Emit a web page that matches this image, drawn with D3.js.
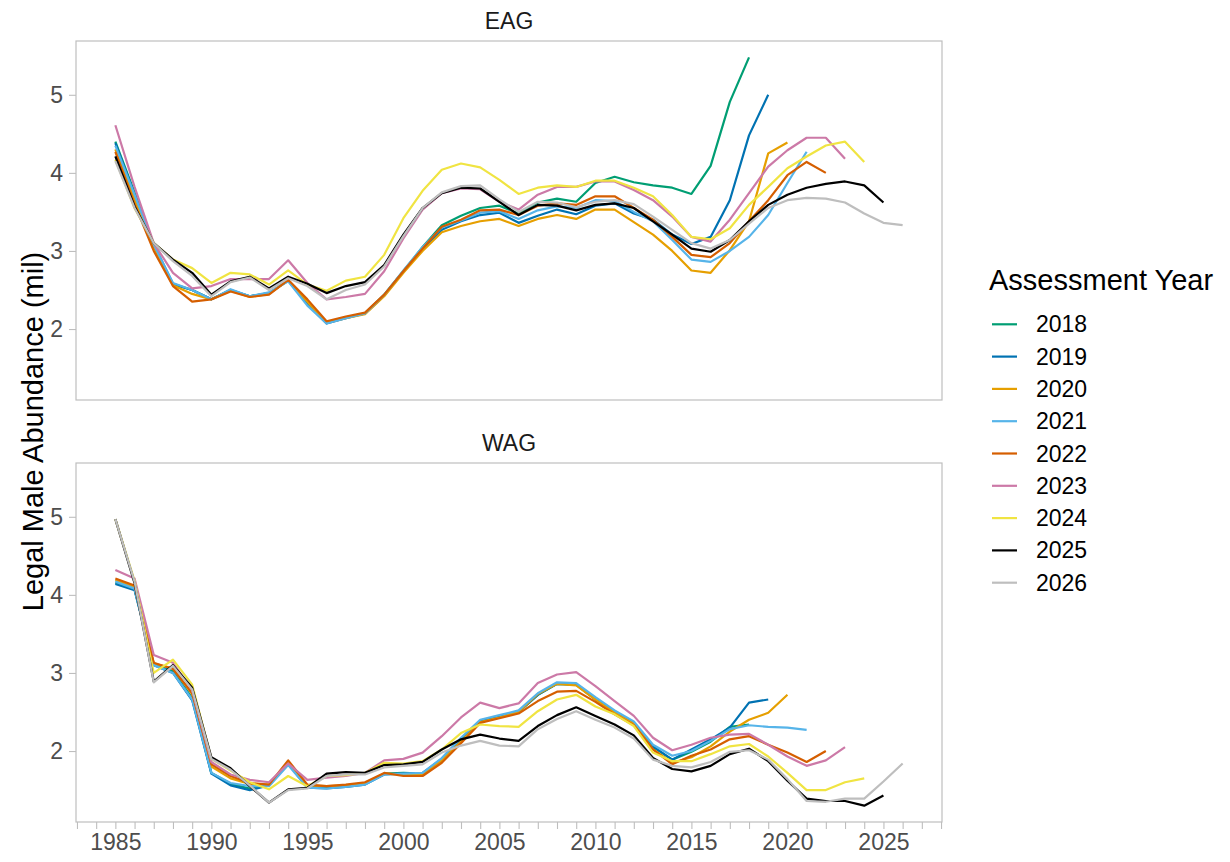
<!DOCTYPE html>
<html>
<head>
<meta charset="utf-8">
<script src="https://cdnjs.cloudflare.com/ajax/libs/d3/7.8.5/d3.min.js"></script>
<style>
    body { margin: 0; background: #ffffff; }
    svg { font-family: "Liberation Sans", Arial, sans-serif; }
</style>
</head>
<body>
<div id="chart"></div>
<script>
// ---- data ----
const firstYear = 1985;
const assessYears = ["2018", "2019", "2020", "2021", "2022", "2023", "2024", "2025", "2026"];
const lineColors = ["#009E73", "#0072B2", "#E69F00", "#56B4E9", "#D55E00", "#CC79A7", "#F0E442", "#000000", "#BEBEBE"];
const regions = ["EAG", "WAG"];
const xTickLabels = [1985, 1990, 1995, 2000, 2005, 2010, 2015, 2020, 2025];
const yTickLabels = [2, 3, 4, 5];

// EAG, one array per assessment year, starting 1985
const eag2018 = [4.40, 3.75, 3.08, 2.57, 2.50, 2.38, 2.50, 2.42, 2.46, 2.62,
    2.33, 2.08, 2.15, 2.20, 2.44, 2.74, 3.05, 3.33, 3.45, 3.55,
    3.58, 3.48, 3.62, 3.67, 3.63, 3.87, 3.95, 3.88, 3.84, 3.81,
    3.73, 4.09, 4.91, 5.48];
const eag2019 = [4.38, 3.72, 3.08, 2.58, 2.50, 2.38, 2.50, 2.42, 2.46, 2.62,
    2.32, 2.07, 2.14, 2.20, 2.43, 2.74, 3.03, 3.27, 3.38, 3.46,
    3.49, 3.36, 3.45, 3.53, 3.47, 3.58, 3.61, 3.48, 3.40, 3.21,
    3.09, 3.18, 3.65, 4.48, 5.00];
const eag2020 = [4.30, 3.65, 3.05, 2.56, 2.45, 2.38, 2.49, 2.41, 2.45, 2.62,
    2.35, 2.08, 2.14, 2.19, 2.42, 2.72, 3.00, 3.24, 3.32, 3.38,
    3.41, 3.32, 3.41, 3.46, 3.41, 3.53, 3.53, 3.37, 3.21, 3.00,
    2.75, 2.72, 3.01, 3.38, 4.25, 4.39];
const eag2021 = [4.35, 3.72, 3.08, 2.59, 2.50, 2.38, 2.51, 2.42, 2.47, 2.61,
    2.30, 2.07, 2.14, 2.20, 2.44, 2.75, 3.05, 3.30, 3.39, 3.49,
    3.51, 3.41, 3.52, 3.57, 3.55, 3.65, 3.64, 3.50, 3.38, 3.14,
    2.89, 2.86, 3.00, 3.18, 3.46, 3.87, 4.27];
const eag2022 = [4.27, 3.60, 3.00, 2.55, 2.35, 2.38, 2.48, 2.41, 2.44, 2.63,
    2.38, 2.10, 2.16, 2.21, 2.44, 2.74, 3.03, 3.31, 3.40, 3.52,
    3.53, 3.46, 3.58, 3.61, 3.59, 3.70, 3.70, 3.55, 3.40, 3.18,
    2.95, 2.92, 3.10, 3.38, 3.65, 3.97, 4.14, 4.00];
const eag2023 = [4.61, 3.82, 3.10, 2.72, 2.52, 2.55, 2.64, 2.64, 2.64, 2.88,
    2.59, 2.38, 2.41, 2.45, 2.74, 3.16, 3.53, 3.74, 3.80, 3.79,
    3.63, 3.53, 3.72, 3.82, 3.82, 3.89, 3.89, 3.78, 3.65, 3.44,
    3.18, 3.12, 3.40, 3.74, 4.08, 4.29, 4.45, 4.45, 4.18];
const eag2024 = [4.17, 3.55, 3.10, 2.89, 2.78, 2.59, 2.72, 2.70, 2.57, 2.75,
    2.57, 2.49, 2.62, 2.67, 2.95, 3.42, 3.77, 4.04, 4.12, 4.07,
    3.91, 3.73, 3.81, 3.84, 3.82, 3.90, 3.90, 3.81, 3.70, 3.46,
    3.18, 3.15, 3.29, 3.59, 3.82, 4.06, 4.21, 4.35, 4.40, 4.14];
const eag2025 = [4.21, 3.57, 3.10, 2.89, 2.72, 2.44, 2.61, 2.67, 2.52, 2.67,
    2.58, 2.46, 2.55, 2.60, 2.82, 3.21, 3.55, 3.74, 3.81, 3.80,
    3.63, 3.46, 3.59, 3.58, 3.52, 3.59, 3.61, 3.55, 3.38, 3.21,
    3.03, 2.99, 3.14, 3.38, 3.59, 3.72, 3.81, 3.86, 3.89, 3.84,
    3.62];
const eag2026 = [4.15, 3.55, 3.10, 2.87, 2.68, 2.42, 2.60, 2.66, 2.50, 2.65,
    2.55, 2.38, 2.50, 2.57, 2.80, 3.19, 3.55, 3.75, 3.83, 3.84,
    3.66, 3.50, 3.63, 3.62, 3.56, 3.63, 3.65, 3.60, 3.44, 3.27,
    3.10, 3.03, 3.14, 3.35, 3.55, 3.65, 3.68, 3.67, 3.62, 3.48,
    3.36, 3.33];

// WAG
const wag2018 = [4.16, 4.07, 3.11, 3.02, 2.68, 1.72, 1.58, 1.52, 1.56, 1.84,
    1.54, 1.53, 1.55, 1.58, 1.71, 1.72, 1.71, 1.88, 2.13, 2.37,
    2.43, 2.50, 2.72, 2.86, 2.85, 2.66, 2.50, 2.36, 2.05, 1.89,
    1.99, 2.12, 2.31, 2.34];
const wag2019 = [4.14, 4.06, 3.10, 3.00, 2.65, 1.71, 1.56, 1.50, 1.56, 1.84,
    1.53, 1.52, 1.54, 1.57, 1.70, 1.71, 1.72, 1.90, 2.15, 2.38,
    2.44, 2.50, 2.72, 2.86, 2.85, 2.66, 2.50, 2.36, 2.06, 1.89,
    2.02, 2.15, 2.30, 2.62, 2.66];
const wag2020 = [4.19, 4.10, 3.12, 3.06, 2.73, 1.80, 1.65, 1.58, 1.57, 1.86,
    1.56, 1.55, 1.56, 1.59, 1.71, 1.70, 1.70, 1.88, 2.12, 2.37,
    2.43, 2.50, 2.73, 2.86, 2.84, 2.66, 2.49, 2.35, 2.02, 1.85,
    1.92, 2.06, 2.25, 2.40, 2.49, 2.72];
const wag2021 = [4.17, 4.08, 3.10, 3.00, 2.66, 1.72, 1.59, 1.55, 1.55, 1.82,
    1.53, 1.52, 1.54, 1.57, 1.70, 1.71, 1.72, 1.91, 2.17, 2.40,
    2.46, 2.52, 2.74, 2.88, 2.87, 2.69, 2.52, 2.38, 2.08, 1.94,
    2.00, 2.13, 2.28, 2.33, 2.31, 2.30, 2.27];
const wag2022 = [4.21, 4.12, 3.13, 3.05, 2.74, 1.83, 1.68, 1.59, 1.57, 1.88,
    1.57, 1.55, 1.57, 1.60, 1.72, 1.68, 1.68, 1.85, 2.10, 2.36,
    2.42, 2.48, 2.64, 2.76, 2.77, 2.63, 2.47, 2.33, 2.02, 1.83,
    1.94, 2.02, 2.15, 2.19, 2.08, 1.98, 1.86, 2.00];
const wag2023 = [4.32, 4.21, 3.23, 3.13, 2.78, 1.86, 1.70, 1.63, 1.60, 1.84,
    1.63, 1.66, 1.68, 1.72, 1.88, 1.90, 1.98, 2.19, 2.43, 2.62,
    2.55, 2.61, 2.87, 2.98, 3.01, 2.83, 2.64, 2.45, 2.17, 2.01,
    2.08, 2.17, 2.21, 2.22, 2.08, 1.93, 1.81, 1.88, 2.05];
const wag2024 = [4.97, 4.18, 3.00, 3.17, 2.85, 1.90, 1.75, 1.60, 1.51, 1.68,
    1.55, 1.68, 1.69, 1.72, 1.85, 1.84, 1.87, 2.02, 2.23, 2.34,
    2.32, 2.31, 2.51, 2.66, 2.72, 2.57, 2.47, 2.32, 1.98, 1.87,
    1.87, 1.96, 2.06, 2.09, 1.93, 1.72, 1.50, 1.50, 1.60, 1.65];
const wag2025 = [4.97, 4.15, 2.89, 3.10, 2.81, 1.92, 1.78, 1.55, 1.34, 1.51,
    1.53, 1.71, 1.73, 1.72, 1.82, 1.83, 1.86, 2.02, 2.15, 2.21,
    2.16, 2.13, 2.32, 2.46, 2.56, 2.45, 2.34, 2.20, 1.91, 1.77,
    1.74, 1.81, 1.96, 2.03, 1.87, 1.62, 1.39, 1.36, 1.36, 1.30,
    1.43];
const wag2026 = [4.97, 4.17, 2.88, 3.09, 2.79, 1.90, 1.76, 1.56, 1.34, 1.50,
    1.52, 1.68, 1.70, 1.70, 1.79, 1.81, 1.83, 1.98, 2.07, 2.13,
    2.07, 2.06, 2.28, 2.41, 2.51, 2.40, 2.30, 2.16, 1.89, 1.81,
    1.79, 1.86, 1.99, 2.01, 1.89, 1.64, 1.36, 1.35, 1.39, 1.39,
    1.61, 1.84];

const eagSeries = [eag2018, eag2019, eag2020, eag2021, eag2022, eag2023, eag2024, eag2025, eag2026];
const wagSeries = [wag2018, wag2019, wag2020, wag2021, wag2022, wag2023, wag2024, wag2025, wag2026];

// ---- layout ----
const width = 1230, height = 862;
const panelLeft = 76, panelRight = 942;
const panelTops = [41, 463];
const panelHeight = 359;
const borderColor = "#bebebe";
const tickTextColor = "#4d4d4d";

let svg = d3.select("#chart").append("svg")
    .attr("width", width)
    .attr("height", height);

// shared scales, ggplot style 5% expansion
let allSeries = eagSeries.concat(wagSeries);
let yExt = d3.extent(allSeries.flat());
let yPad = (yExt[1] - yExt[0]) * 0.05;
let lastYear = firstYear + d3.max(allSeries, s => s.length) - 1;
let xPad = (lastYear - firstYear) * 0.05;

let x = d3.scaleLinear()
    .domain([firstYear - xPad, lastYear + xPad])
    .range([panelLeft, panelRight]);

function drawPanel(region, series, top, showXAxis) {
    let y = d3.scaleLinear()
        .domain([yExt[0] - yPad, yExt[1] + yPad])
        .range([top + panelHeight, top]);

    // strip label
    svg.append("text")
        .attr("x", (panelLeft + panelRight) / 2)
        .attr("y", top - 20)
        .attr("text-anchor", "middle")
        .attr("dominant-baseline", "central")
        .style("font-size", "23px")
        .style("fill", "#1a1a1a")
        .text(region);

    // y axis
    let yAxis = d3.axisLeft(y)
        .tickValues(yTickLabels)
        .tickSize(7)
        .tickPadding(6)
        .tickFormat(d3.format("d"));
    let yg = svg.append("g")
        .attr("transform", "translate(" + panelLeft + ",0)")
        .call(yAxis);
    yg.select(".domain").remove();
    yg.selectAll(".tick line").attr("stroke", borderColor).attr("stroke-width", 1.1);
    yg.selectAll(".tick text")
        .style("font-size", "23px")
        .style("font-family", "'Liberation Sans', Arial, sans-serif")
        .style("fill", tickTextColor);

    if (showXAxis) {
        let xAxis = d3.axisBottom(x)
            .tickValues(d3.range(Math.ceil(x.domain()[0]), Math.floor(x.domain()[1]) + 1))
            .tickSize(7)
            .tickPadding(5)
            .tickFormat(d => xTickLabels.includes(d) ? d : "");
        let xg = svg.append("g")
            .attr("transform", "translate(0," + (top + panelHeight) + ")")
            .call(xAxis);
        xg.select(".domain").remove();
        xg.selectAll(".tick line").attr("stroke", borderColor).attr("stroke-width", 1.1);
        xg.selectAll(".tick text")
            .style("font-size", "23px")
            .style("font-family", "'Liberation Sans', Arial, sans-serif")
            .style("fill", tickTextColor);
    }

    let line = d3.line()
        .x((d, i) => x(firstYear + i))
        .y(d => y(d));

    svg.append("g")
        .selectAll("path")
        .data(series)
        .enter()
        .append("path")
        .attr("d", line)
        .attr("fill", "none")
        .attr("stroke", (d, i) => lineColors[i])
        .attr("stroke-width", 2.2)
        .attr("stroke-linejoin", "round");

    // panel border
    svg.append("rect")
        .attr("x", panelLeft)
        .attr("y", top)
        .attr("width", panelRight - panelLeft)
        .attr("height", panelHeight)
        .attr("fill", "none")
        .attr("stroke", borderColor)
        .attr("stroke-width", 1.2);
}

drawPanel(regions[0], eagSeries, panelTops[0], false);
drawPanel(regions[1], wagSeries, panelTops[1], true);

// y axis title
svg.append("text")
    .attr("transform", "translate(33," + ((panelTops[0] + panelTops[1] + panelHeight) / 2) + ") rotate(-90)")
    .attr("text-anchor", "middle")
    .attr("dominant-baseline", "central")
    .style("font-size", "29px")
    .style("fill", "#000")
    .text("Legal Male Abundance (mil)");

// legend
let legend = svg.append("g").attr("transform", "translate(989,0)");
legend.append("text")
    .attr("x", 0)
    .attr("y", 290)
    .style("font-size", "29px")
    .style("fill", "#000")
    .text("Assessment Year");

let items = legend.selectAll("g.item")
    .data(assessYears)
    .enter()
    .append("g")
    .attr("class", "item")
    .attr("transform", (d, i) => "translate(0," + (324.3 + i * 32.3) + ")");
items.append("line")
    .attr("x1", 3)
    .attr("x2", 28)
    .attr("stroke", (d, i) => lineColors[i])
    .attr("stroke-width", 2.2);
items.append("text")
    .attr("x", 47)
    .attr("dominant-baseline", "central")
    .style("font-size", "23px")
    .style("fill", "#000")
    .text(d => d);
</script>
</body>
</html>
